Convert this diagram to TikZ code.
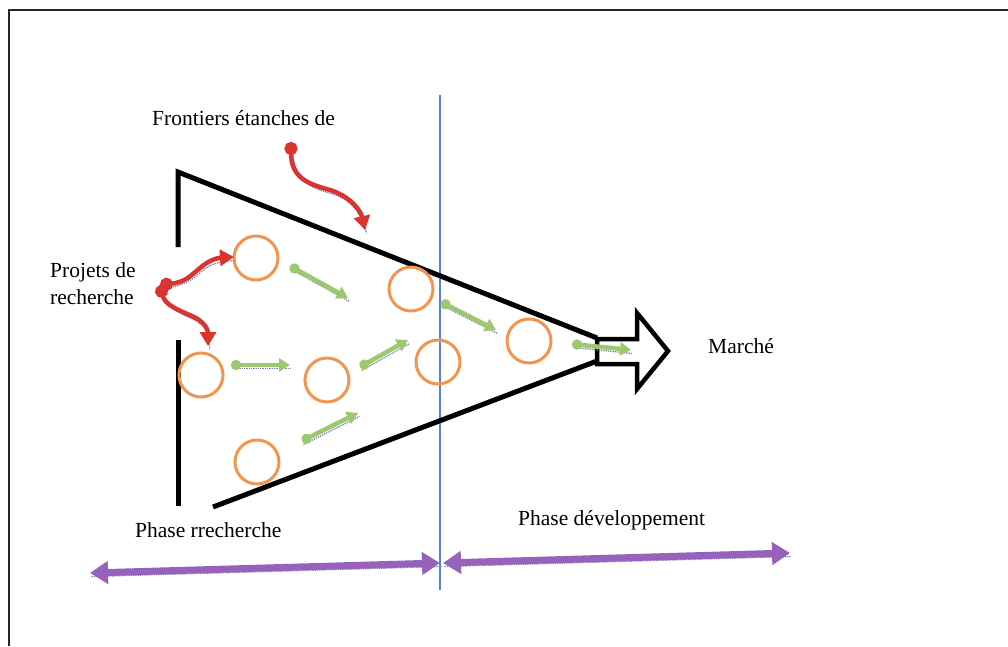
\documentclass[tikz,border=0pt]{standalone}
\usepackage{fontspec}
\setmainfont{Liberation Serif}
\usetikzlibrary{arrows.meta}
\definecolor{bubble}{RGB}{240,150,80}
\definecolor{leaf}{RGB}{158,200,112}
\definecolor{flame}{RGB}{218,52,48}
\definecolor{phasecol}{RGB}{150,98,188}
\definecolor{divider}{RGB}{85,130,215}
\definecolor{dropgray}{RGB}{120,130,165}
\tikzset{
  label text/.style={inner sep=0pt, anchor=base west, font=\fontsize{21.5}{26}\selectfont},
  project/.style={circle, draw=bubble, line width=3pt, minimum size=44pt, inner sep=0pt},
  funnel/.style={line width=5pt, black, line cap=butt, line join=miter},
  dropshade/.style={draw=dropgray, densely dotted, line width=1.3pt,
      transform canvas={shift={(1.5pt,-3.5pt)}}},
  flow/.style={leaf, line width=4.5pt,
      {Circle[length=10pt]}-{Triangle[length=11pt,width=13pt]}},
  entry/.style={flame, line width=4.5pt,
      {Circle[length=13pt]}-{Triangle[length=14pt,width=16pt]}},
  span/.style={phasecol, line width=7pt,
      {Triangle[length=18pt,width=22pt]}-{Triangle[length=18pt,width=22pt]}}
}
% a path drawn with a dotted drop shadow beneath it
\newcommand\shadedpath[2]{%
  \draw[dropshade] #2;
  \draw[#1] #2;}
\begin{document}
\begin{tikzpicture}[x=1pt,y=-1pt]
\useasboundingbox (0,0) rectangle (1008,646);
\fill[white] (0,0) rectangle (1008,646);

% outer frame (top and left edges)
\draw[line width=2.5pt, black!85] (9,646) -- (9,10) -- (1008,10);

% boundary between the two phases
\draw[divider, line width=1.2pt] (440,95) -- (440,590);

% labels
\node[label text] (front) at (152,125) {Frontiers étanches de};
\node[label text] (proj1) at (50,277) {Projets de};
\node[label text] (proj2) at (50,304) {recherche};
\node[label text] (market) at (708,353) {Marché};
\node[label text] (phR) at (135,537) {Phase rrecherche};
\node[label text] (phD) at (518,525) {Phase développement};

% funnel walls
\draw[funnel] (178,247) -- (178,172) -- (597,338);
\draw[funnel] (178,340) -- (178,506);
\draw[funnel] (213,507) -- (597,361);

% projects
\node[project] (c1) at (256,258) {};
\node[project] (c2) at (201,375) {};
\node[project] (c3) at (257,462) {};
\node[project] (c4) at (327,380) {};
\node[project] (c5) at (411,289) {};
\node[project] (c6) at (438,362) {};
\node[project] (c7) at (529,341) {};

% red entries
\coordinate (r1s) at (291,142);
\coordinate (r1e) at (365,230);
\coordinate (r2s) at (160,285);
\coordinate (r2e) at (234,257);
\coordinate (r3e) at (208,346);
\shadedpath{entry}{(r1s) .. controls (291,178) and (308,184) .. (330,190)
                   .. controls (352,197) and (361,212) .. (r1e)}
\shadedpath{entry}{(r2s) .. controls (186,282) and (190,276) .. (200,268)
                   .. controls (208,261) and (216,258) .. (r2e)}
\shadedpath{entry}{(r2s) .. controls (165,305) and (178,310) .. (192,316)
                   .. controls (205,322) and (208,330) .. (r3e)}

% green flows
\coordinate (g1s) at (290,266); \coordinate (g1e) at (348,298);
\coordinate (g2s) at (231,365); \coordinate (g2e) at (290,365);
\coordinate (g3s) at (360,367); \coordinate (g3e) at (408,340);
\coordinate (g4s) at (302,441); \coordinate (g4e) at (358,413);
\coordinate (g5s) at (441,302); \coordinate (g5e) at (496,330);
\coordinate (g6s) at (572,344); \coordinate (g6e) at (631,350);
\shadedpath{flow}{(g1s) -- (g1e)}
\shadedpath{flow}{(g2s) -- (g2e)}
\shadedpath{flow}{(g3s) -- (g3e)}
\shadedpath{flow}{(g4s) -- (g4e)}
\shadedpath{flow}{(g5s) -- (g5e)}

% outlet arrow towards the market
\draw[line width=4.5pt, fill=white, line join=miter]
  (597,339) -- (637,339) -- (637,313) -- (668,351) -- (637,389) -- (637,364) -- (597,364) -- cycle;
\shadedpath{flow}{(g6s) -- (g6e)}

% phase spans
\coordinate (a1) at (90,573); \coordinate (a2) at (440,563);
\coordinate (b1) at (443,563); \coordinate (b2) at (790,553);
\shadedpath{span}{(a1) -- (a2)}
\shadedpath{span}{(b1) -- (b2)}
\end{tikzpicture}
\end{document}
